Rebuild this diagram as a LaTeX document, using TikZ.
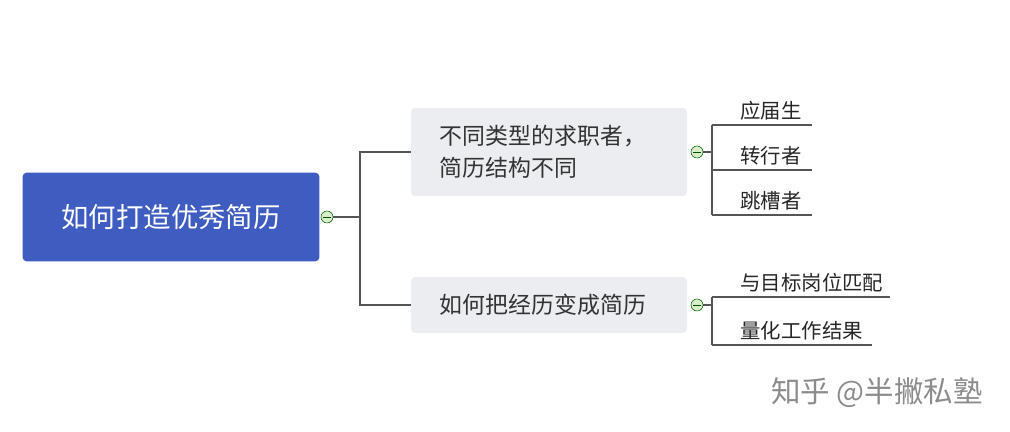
\documentclass[tikz,border=0pt]{standalone}
\usepackage{fontspec}
\setmainfont{Noto Sans CJK SC}
\usetikzlibrary{positioning}
\definecolor{rootblue}{HTML}{3F5CC0}
\definecolor{topicgray}{HTML}{ECEDF1}
\definecolor{linegray}{HTML}{555555}
\definecolor{foldgreen}{HTML}{D8EDC8}
\tikzset{
  root/.style={rectangle,rounded corners=3pt,fill=rootblue,text=white,minimum width=7.42cm,minimum height=2.22cm,font=\fontsize{19.5}{22}\selectfont},
  topic/.style={rectangle,rounded corners=3pt,fill=topicgray,text=black!80,inner xsep=0.725cm,text width=5.45cm,align=left,font=\fontsize{16.3}{23}\selectfont},
  leaf/.style={anchor=south west,inner sep=3pt,text=black!85,font=\fontsize{14.5}{17}\selectfont},
  fold/.style={circle,draw=green!40!black,fill=foldgreen,inner sep=0pt,minimum size=0.3cm,line width=0.4pt},
  link/.style={draw=linegray,line width=0.8pt}
}
\newcommand{\foldsign}[1]{\draw[green!30!black,line width=0.5pt] ([xshift=-0.09cm]#1.center) -- ([xshift=0.09cm]#1.center);}
\begin{document}
\begin{tikzpicture}[x=0.025cm,y=-0.025cm]
\useasboundingbox (0,0) rectangle (1010,432);

    % root
      \node[root] (main) at (171,217) {如何打造优秀简历};
      \node[fold] (f0) at (327,217) {};
      \foldsign{f0}

    % topics
      \node[topic,minimum height=2.2cm] (t1) at (549,152) {不同类型的求职者，\\简历结构不同};
      \node[topic,minimum height=1.4cm] (t2) at (549,305) {如何把经历变成简历};
      \node[fold] (f1) at (697,152) {};
      \node[fold] (f2) at (697,305) {};
      \foldsign{f1}
      \foldsign{f2}

      \coordinate (b0) at (360,217);
      \draw[link] (f0.east) -- (b0);
      \draw[link] (t1.west) -| (b0) |- (t2.west);

    % leaves
      \coordinate (b1) at (712,152);
      \coordinate (b2) at (712,305);
      \coordinate (l1) at (712,125);
      \coordinate (l2) at (712,170);
      \coordinate (l3) at (712,215);
      \coordinate (l4) at (712,297);
      \coordinate (l5) at (712,345);
      \draw[link] (f1.east) -- (b1);
      \draw[link] (f2.east) -- (b2);
      \draw[link] (l1) -- (l3);
      \draw[link] (l4) -- (l5);
      \node[leaf] (s1) at ([xshift=0.6cm]l1) {应届生};
      \node[leaf] (s2) at ([xshift=0.6cm]l2) {转行者};
      \node[leaf] (s3) at ([xshift=0.6cm]l3) {跳槽者};
      \node[leaf] (s4) at ([xshift=0.6cm]l4) {与目标岗位匹配};
      \node[leaf] (s5) at ([xshift=0.6cm]l5) {量化工作结果};
      \draw[link] (l1) -- ++(100,0);
      \draw[link] (l2) -- ++(100,0);
      \draw[link] (l3) -- ++(100,0);
      \draw[link] (l4) -- ++(178,0);
      \draw[link] (l5) -- ++(160,0);

    % mark
      \node[text=black!45,font=\fontsize{21}{24}\selectfont] (mark) at (877,393) {知乎 @半撇私塾};
\end{tikzpicture}
\end{document}
